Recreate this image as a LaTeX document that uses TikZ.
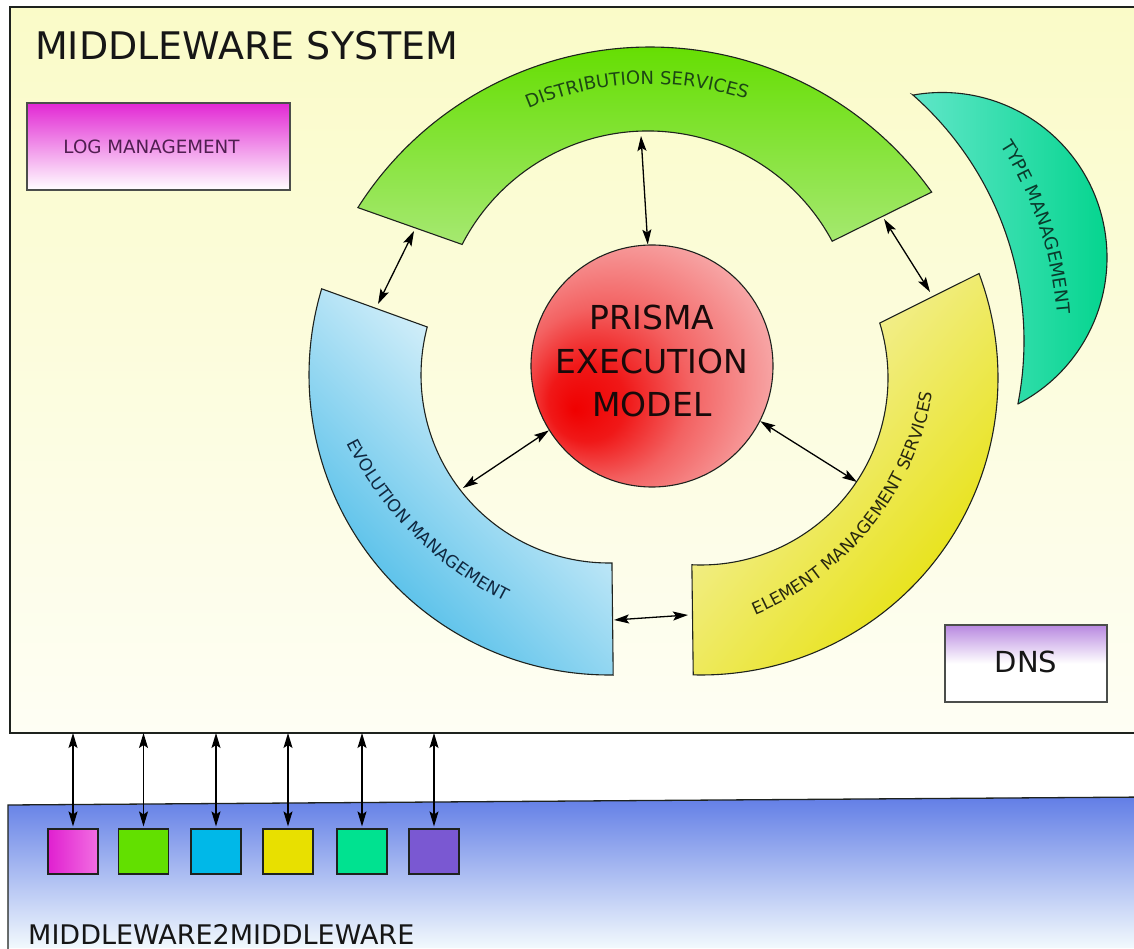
\documentclass[tikz,border=0pt]{standalone}
\usepackage{fontspec}
\setmainfont{DejaVu Sans}
\usetikzlibrary{arrows.meta,decorations.text}

\definecolor{framefillA}{RGB}{250,251,200}
\definecolor{framefillB}{RGB}{254,254,244}
\definecolor{edge}{RGB}{30,34,30}
\definecolor{titletext}{RGB}{22,22,22}
\definecolor{dsgreen}{RGB}{100,222,0}
\definecolor{dspale}{RGB}{214,240,196}
\definecolor{dstext}{RGB}{28,70,20}
\definecolor{evblue}{RGB}{60,182,230}
\definecolor{evtext}{RGB}{16,40,64}
\definecolor{emyellow}{RGB}{230,224,0}
\definecolor{empale}{RGB}{246,243,190}
\definecolor{emtext}{RGB}{40,40,16}
\definecolor{tmteal}{RGB}{0,212,140}
\definecolor{tmlight}{RGB}{96,230,200}
\definecolor{tmtext}{RGB}{10,58,44}
\definecolor{logmag}{RGB}{226,40,212}
\definecolor{logtext}{RGB}{80,30,80}
\definecolor{dnspurple}{RGB}{184,136,224}
\definecolor{bandtop}{RGB}{98,126,230}
\definecolor{bandbottom}{RGB}{242,249,253}
\definecolor{pmred}{RGB}{240,0,0}
\definecolor{pmstrong}{RGB}{240,24,24}
\definecolor{pmmid}{RGB}{243,98,98}
\definecolor{pmlight}{RGB}{247,168,168}
\definecolor{pmpale}{RGB}{249,208,208}
\definecolor{pmtext}{RGB}{24,10,10}
\definecolor{sqmag}{RGB}{224,32,208}
\definecolor{sqmagB}{RGB}{242,110,226}
\definecolor{sqgreen}{RGB}{98,224,0}
\definecolor{sqcyan}{RGB}{0,184,232}
\definecolor{sqyellow}{RGB}{232,224,0}
\definecolor{sqteal}{RGB}{0,226,144}
\definecolor{sqpurple}{RGB}{122,88,210}

% execution model sphere: bright spot towards the lower left
% (the path's box is mapped onto the central 50bp of the shading)
\pgfdeclareradialshading{prismashade}{\pgfpoint{-16bp}{-9bp}}{%
  color(0bp)=(pmred); color(8bp)=(pmstrong); color(18bp)=(pmmid);
  color(32bp)=(pmlight); color(43bp)=(pmpale); color(50bp)=(pmpale)}

\begin{document}
\begin{tikzpicture}[x=1pt,y=1pt,
  shapeline/.style={draw=edge, line width=1.1pt},
  dbl/.style={{Stealth[length=15pt,width=9pt,inset=3pt]}-{Stealth[length=15pt,width=9pt,inset=3pt]},
              line width=1.3pt, draw=black},
  sq/.style={draw=edge, line width=1.1pt, minimum width=50pt, minimum height=45pt, inner sep=0pt},
  boxnode/.style={draw=edge!80, line width=1.3pt, inner sep=0pt},
]
\useasboundingbox (0,0) rectangle (1134,948);
\clip (0,0) rectangle (1134,948);
\fill[white] (0,0) rectangle (1134,948);

% ---------- middleware system frame ----------
\shade[top color=framefillA, bottom color=framefillB] (10,941) rectangle (1150,215);
\draw[draw=edge, line width=1.3pt] (1150,941) -- (10,941) -- (10,215) -- (1150,215);
\coordinate (sysbottom) at (0,215);

\node[anchor=base west, font=\fontsize{38}{38}\selectfont, text=titletext, inner sep=0pt]
  (title) at (35,888) {MIDDLEWARE SYSTEM};

% ---------- side boxes ----------
\node[boxnode, top color=logmag, bottom color=white, minimum width=263pt, minimum height=87pt,
      font=\fontsize{18.3}{18.3}\selectfont, text=logtext] (log) at (158.5,801.5)
      {\kern-14pt LOG MANAGEMENT};

\node[boxnode, top color=dnspurple, bottom color=white, middle color=white,
      minimum width=162pt, minimum height=77pt,
      font=\fontsize{29}{29}\selectfont, text=titletext] (dns) at (1026,284.5)
      {\raisebox{4.5pt}{DNS}};

% ---------- ring segments ----------
% distribution services
\shadedraw[shapeline, top color=dsgreen, bottom color=dspale]
  (650,555) ++(147.6:346) arc[start angle=147.6, end angle=35.5, radius=346]
  -- ([shift={(28.2:209)}]648,608) arc[start angle=28.2, end angle=152.8, radius=209] -- cycle;

% evolution management
\shadedraw[shapeline, top color=white, bottom color=evblue, shading angle=-45]
  (609,573) ++(163.3:300) arc[start angle=163.3, end angle=270.8, radius=300]
  -- ([shift={(270.9:188)}]609,573) arc[start angle=270.9, end angle=165.2, radius=188] -- cycle;

% element management services
\shadedraw[shapeline, top color=empale, bottom color=emyellow, shading angle=50]
  (701,570) ++(-91.5:297) arc[start angle=-91.5, end angle=20.6, radius=297]
  -- ([shift={(17.1:187)}]701,570) arc[start angle=17.1, end angle=-92.8, radius=187] -- cycle;

% type management crescent
\shadedraw[shapeline, left color=tmlight, right color=tmteal]
  (942,690.5) ++(100.1:165) arc[start angle=100.1, end angle=-62.6, radius=165]
  -- ([shift={(-11.07:328)}]696,607) arc[start angle=-11.07, end angle=48.6, radius=328] -- cycle;

% ---------- curved labels ----------
\path[decorate, decoration={text along path, text align=center,
  text={|\fontsize{18}{18}\selectfont\color{dstext}|DISTRIBUTION SERVICES}}]
  (650,555) ++(152.5:309) arc[start angle=152.5, end angle=32.5, radius=309];

\path[decorate, decoration={text along path, text align=center,
  text={|\fontsize{17}{17}\selectfont\color{evtext}|EVOLUTION MANAGEMENT}}]
  (669,669) ++(165:362) arc[start angle=165, end angle=285, radius=362];

\path[decorate, decoration={text along path, text align=center,
  text={|\fontsize{17}{17}\selectfont\color{emtext}|ELEMENT MANAGEMENT SERVICES}}]
  (641,606) ++(261.4:296) arc[start angle=261.4, end angle=381.4, radius=296];

\path[decorate, decoration={text along path, text align=center,
  text={|\fontsize{18}{18}\selectfont\color{tmtext}|TYPE MANAGEMENT}}]
  (696,607) ++(78.5:362) arc[start angle=78.5, end angle=-41.5, radius=362];

% ---------- execution model ----------
\node[circle, draw=edge, line width=1.1pt, shade, shading=prismashade,
      minimum size=242pt, inner sep=0pt] (prisma) at (652,582) {};
\node[align=center, font=\fontsize{33}{43.5}\selectfont, text=pmtext, inner sep=0pt]
  (prismatext) at ([yshift=5pt]prisma.center) {PRISMA\\EXECUTION\\MODEL};

% ---------- connector ends on the ring ----------
\coordinate (dsIn)    at (641,812);
\coordinate (dsLeft)  at (414,717);
\coordinate (evTop)   at (378,644);
\coordinate (dsRight) at (884,729);
\coordinate (emTop)   at (930,656);
\coordinate (evIn)    at (463,460);
\coordinate (emIn)    at (857,466);
\coordinate (evEnd)   at (614,328);
\coordinate (emEnd)   at (688,333);

\draw[dbl] (dsIn) -- (prisma.92.3);
\draw[dbl] (dsLeft) -- (evTop);
\draw[dbl] (dsRight) -- (emTop);
\draw[dbl] (evIn) -- (prisma.212.4);
\draw[dbl] (prisma.333.9) -- (emIn);
\draw[dbl] (evEnd) -- (emEnd);

% ---------- middleware2middleware band ----------
\shade[top color=bandtop, bottom color=bandbottom]
  (8,143) -- (1150,151) -- (1150,0) -- (8,0) -- cycle;
\draw[draw=edge, line width=1.3pt] (8,-10) -- (8,143) -- (1150,151);

\node[sq, left color=sqmag, right color=sqmagB] (m1) at (73,96.5) {};
\node[sq, fill=sqgreen]  (m2) at (143.5,96.5) {};
\node[sq, fill=sqcyan]   (m3) at (216,96.5) {};
\node[sq, fill=sqyellow] (m4) at (288,96.5) {};
\node[sq, fill=sqteal]   (m5) at (362,96.5) {};
\node[sq, fill=sqpurple] (m6) at (434,96.5) {};

\foreach \m in {m1,m2,m3,m4,m5,m6}
  \draw[dbl, shorten >=2pt] (\m.north |- sysbottom) -- (\m.north);

\node[anchor=base west, font=\fontsize{27}{27}\selectfont, text=titletext, inner sep=0pt]
  (m2m) at (28,3.5) {MIDDLEWARE2MIDDLEWARE};
\end{tikzpicture}
\end{document}
